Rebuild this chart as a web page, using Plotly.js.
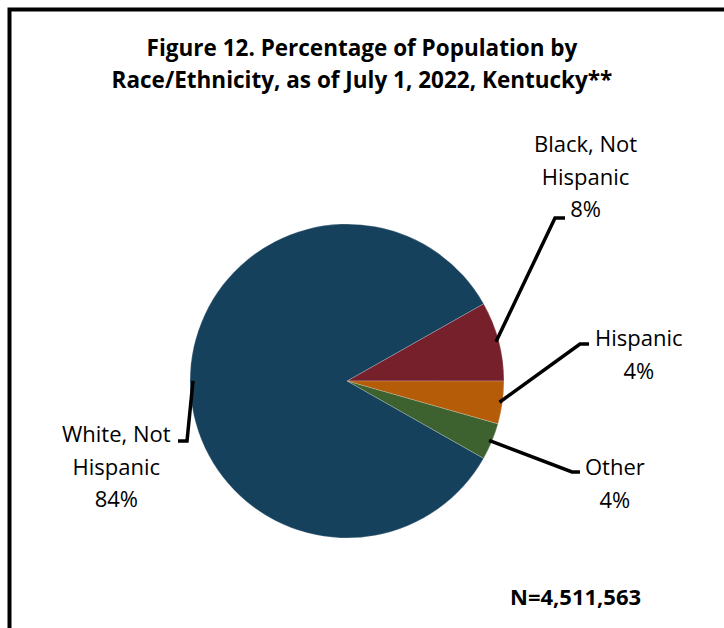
<!DOCTYPE html>
<html><head><meta charset="utf-8">
<script src="https://cdn.plot.ly/plotly-3.0.1.min.js"></script>
<style>html,body{margin:0;padding:0;background:#fff}#chart{width:724px;height:628px}</style>
</head><body><div id="chart"></div>
<script>
// ---- data ----
const categories = ['Black, Not Hispanic', 'Hispanic', 'Other', 'White, Not Hispanic'];
const shares = [8.2, 4.4, 3.8, 83.6];
const sliceColors = ['#75202B', '#B45C08', '#3D6230', '#16415C'];
const titleLines = ['Figure 12. Percentage of Population by', 'Race/Ethnicity, as of July 1, 2022, Kentucky**'];
const sampleN = '4,511,563';

// ---- layout constants (pixels) ----
const W = 724, H = 628, CX = 347, CY = 381, R = 157, ROT = 60.5;
const FONT = '"Open Sans", "Noto Sans", sans-serif';
const px = x => x / W, py = y => 1 - y / H;
const labelLayout = [
  {x: 585, y: 175, elbow: [555, 218], end: [565, 218]},
  {x: 639, y: 353, elbow: [580, 344], end: [589, 344]},
  {x: 615, y: 482, elbow: [572, 472], end: [580, 472]},
  {x: 116, y: 466, elbow: [187, 441], end: [178, 441]}
];
const span = (t, s, b) => `<span style="font-size:${s}px">${b ? '<b>' + t + '</b>' : t}</span>`;

const total = shares.reduce((a, b) => a + b, 0);
let acc = 0;
const annotations = [], shapes = [];
shares.forEach((v, i) => {
  const mid = (ROT + (acc + v / 2) / total * 360) * Math.PI / 180;
  acc += v;
  const sx = CX + (R - 3) * Math.sin(mid), sy = CY - (R - 3) * Math.cos(mid);
  const L = labelLayout[i];
  shapes.push({type: 'path', xref: 'paper', yref: 'paper',
    path: `M ${px(sx)} ${py(sy)} L ${px(L.elbow[0])} ${py(L.elbow[1])} L ${px(L.end[0])} ${py(L.end[1])}`,
    line: {color: '#000', width: 3.5}});
  const lines = categories[i].replace(', Not ', ', Not\n').split('\n');
  lines.push(Math.round(v / total * 100) + '%');
  annotations.push({xref: 'paper', yref: 'paper', x: px(L.x), y: py(L.y), xanchor: 'center', yanchor: 'middle',
    showarrow: false, align: 'center', text: lines.map(t => span(t, 22)).join('<br>'),
    font: {family: FONT, size: 25, color: '#000'}});
});
annotations.push({xref: 'paper', yref: 'paper', x: px(575), y: py(596), xanchor: 'center', yanchor: 'middle',
  showarrow: false, text: '<b>N=' + sampleN + '</b>', font: {family: FONT, size: 22, color: '#000'}});

// frame (top and left edges visible, others beyond the canvas)
shapes.push({type: 'rect', xref: 'paper', yref: 'paper', x0: px(9.5), x1: px(W + 20), y0: py(H + 20), y1: py(9.5),
  line: {color: '#000', width: 4}, fillcolor: 'rgba(0,0,0,0)'});

const trace = {
  type: 'pie', labels: categories, values: shares, sort: false, direction: 'clockwise', rotation: ROT,
  textinfo: 'none', hoverinfo: 'label+percent', showlegend: false,
  marker: {colors: sliceColors, line: {color: 'rgba(255,255,255,0.35)', width: 0.6}},
  domain: {x: [px(CX - R), px(CX + R)], y: [py(CY + R), py(CY - R)]}
};

const layout = {
  width: W, height: H, margin: {l: 0, r: 0, t: 0, b: 0}, paper_bgcolor: '#fff', showlegend: false,
  title: {text: titleLines.map(t => span(t, 22.5, true)).join('<br>'), font: {family: FONT, size: 25, color: '#000'},
    x: 0.5, xanchor: 'center', xref: 'paper', y: py(55.5), yanchor: 'middle', yref: 'paper'},
  annotations: annotations, shapes: shapes
};
Plotly.newPlot('chart', [trace], layout, {displayModeBar: false, staticPlot: true});
</script></body></html>
